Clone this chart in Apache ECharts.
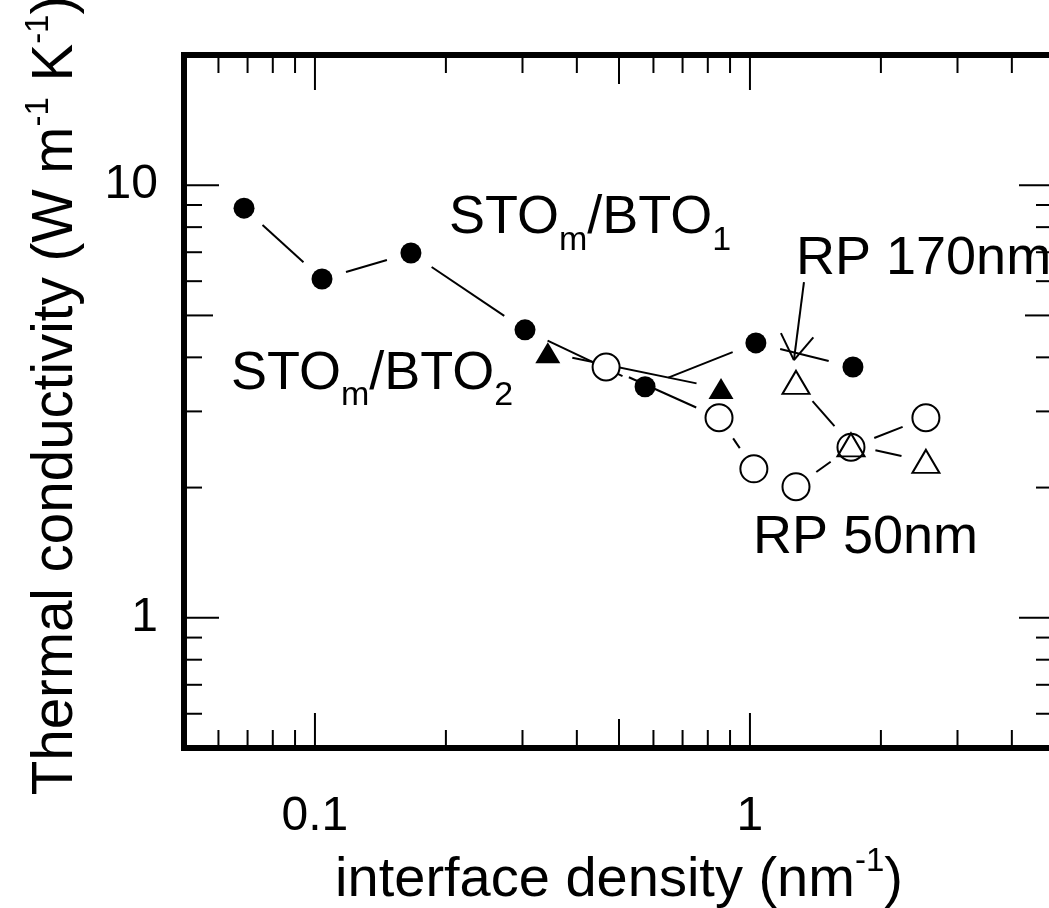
<!DOCTYPE html>
<html>
<head>
<meta charset="utf-8">
<script src="https://cdn.jsdelivr.net/npm/echarts@6/dist/echarts.min.js"></script>
<style>
html,body{margin:0;padding:0;background:#fff;}
#chart{width:1049px;height:908px;}
</style>
</head>
<body>
<div id="chart"></div>
<script>
// ---- data ----
const bto1X = [0.0687, 0.1038, 0.1662, 0.304, 0.574, 1.032, 1.725];
const bto1Y = [8.85, 6.07, 6.97, 4.63, 3.42, 4.32, 3.80];
const bto2X = [0.343, 0.858];
const bto2Y = [4.10, 3.39];
const rp50X = [0.467, 0.849, 1.021, 1.276, 1.707, 2.538];
const rp50Y = [3.80, 2.90, 2.21, 2.01, 2.48, 2.90];
const rp170X = [1.276, 1.707, 2.538];
const rp170Y = [3.50, 2.51, 2.30];

// axis ranges and ticks
const xRange = [0.05, 5];
const yRange = [0.5, 20];
const xTickLabels = ['0.1', '1'];
const yTickLabels = ['1', '10'];
const xMajorTicks = [0.1, 1];
const xMidTicks = [0.5];
const xMinorTicks = [0.06, 0.07, 0.08, 0.09, 0.2, 0.3, 0.4, 0.6, 0.7, 0.8, 0.9, 2, 3, 4];
const yMajorTicks = [1, 10];
const yMidTicks = [5];
const yMinorTicks = [0.6, 0.7, 0.8, 0.9, 2, 3, 4, 6, 7, 8, 9];

// annotations
const annoText = ['STO{s|m}/BTO{s|1}', 'STO{s|m}/BTO{s|2}', 'RP 170nm', 'RP 50nm'];
const annoX = [0.2032, 0.0641, 1.276, 1.016];
const annoY = [8.39, 3.66, 6.75, 1.53];
const arrowFrom = [1.331, 5.97];
const arrowTo = [1.262, 3.94];

// ---- styles ----
const FONT = '"Liberation Sans", Arial, sans-serif';
const TICK_MAJOR = 35, TICK_MID = 29, TICK_MINOR = 18;
const GAP = 25;

function pairs(xs, ys) { return xs.map((x, i) => [x, ys[i]]); }
function segs(xs, ys) {
  const out = [];
  for (let i = 0; i < xs.length - 1; i++) out.push([xs[i], ys[i], xs[i + 1], ys[i + 1]]);
  return out;
}

const allSegs = [].concat(segs(bto1X, bto1Y), segs(bto2X, bto2Y), segs(rp50X, rp50Y), segs(rp170X, rp170Y));

function segRender(params, api) {
  const p1 = api.coord([api.value(0), api.value(1)]);
  const p2 = api.coord([api.value(2), api.value(3)]);
  const dx = p2[0] - p1[0], dy = p2[1] - p1[1];
  const L = Math.hypot(dx, dy);
  if (L <= 2 * GAP) return null;
  const ux = dx / L, uy = dy / L;
  return {
    type: 'line',
    shape: { x1: p1[0] + ux * GAP, y1: p1[1] + uy * GAP, x2: p2[0] - ux * GAP, y2: p2[1] - uy * GAP },
    style: { stroke: '#000', lineWidth: 2 }
  };
}

const xTickData = [].concat(
  xMajorTicks.map(v => [v, yRange[0], TICK_MAJOR]),
  xMidTicks.map(v => [v, yRange[0], TICK_MID]),
  xMinorTicks.map(v => [v, yRange[0], TICK_MINOR]));
const yTickData = [].concat(
  yMajorTicks.map(v => [xRange[0], v, TICK_MAJOR]),
  yMidTicks.map(v => [xRange[0], v, TICK_MID]),
  yMinorTicks.map(v => [xRange[0], v, TICK_MINOR]));

function xTickRender(params, api) {
  const v = api.value(0), len = api.value(2);
  const b = api.coord([v, yRange[0]]), t = api.coord([v, yRange[1]]);
  const st = { stroke: '#000', lineWidth: 2 };
  return { type: 'group', children: [
    { type: 'line', shape: { x1: b[0], y1: b[1], x2: b[0], y2: b[1] - len }, style: st },
    { type: 'line', shape: { x1: t[0], y1: t[1], x2: t[0], y2: t[1] + len }, style: st }
  ] };
}
function yTickRender(params, api) {
  const v = api.value(1), len = api.value(2);
  const l = api.coord([xRange[0], v]), r = api.coord([xRange[1], v]);
  const st = { stroke: '#000', lineWidth: 2 };
  return { type: 'group', children: [
    { type: 'line', shape: { x1: l[0], y1: l[1], x2: l[0] + len, y2: l[1] }, style: st },
    { type: 'line', shape: { x1: r[0], y1: r[1], x2: r[0] - len, y2: r[1] }, style: st }
  ] };
}
function arrowRender(params, api) {
  const a = api.coord([api.value(0), api.value(1)]);
  const b = api.coord([api.value(2), api.value(3)]);
  const ang = Math.atan2(a[1] - b[1], a[0] - b[0]);
  const hl = 30, ha = 33 * Math.PI / 180;
  const st = { stroke: '#000', lineWidth: 2 };
  return { type: 'group', children: [
    { type: 'line', shape: { x1: a[0], y1: a[1], x2: b[0], y2: b[1] }, style: st },
    { type: 'line', shape: { x1: b[0], y1: b[1], x2: b[0] + hl * Math.cos(ang + ha), y2: b[1] + hl * Math.sin(ang + ha) }, style: st },
    { type: 'line', shape: { x1: b[0], y1: b[1], x2: b[0] + hl * Math.cos(ang - ha), y2: b[1] + hl * Math.sin(ang - ha) }, style: st }
  ] };
}

function fmt(list) {
  return function (v) {
    const s = String(+(+v).toPrecision(6));
    return list.indexOf(s) >= 0 ? s : '';
  };
}

const chart = echarts.init(document.getElementById('chart'), null, { renderer: 'canvas' });
chart.setOption({
  animation: false,
  backgroundColor: '#fff',
  grid: { left: 184, right: -5, top: 55, bottom: 160, show: true, borderWidth: 6, borderColor: '#000',
    backgroundColor: 'transparent', containLabel: false, outerBoundsMode: 'none' },
  xAxis: {
    type: 'log', logBase: 10, min: xRange[0], max: xRange[1],
    axisLine: { show: false }, axisTick: { show: false }, splitLine: { show: false },
    axisLabel: { formatter: fmt(xTickLabels), fontSize: 48, fontFamily: FONT, color: '#000', margin: 45 },
    name: 'interface density (nm{sup|-1})',
    nameLocation: 'middle', nameGap: 91,
    nameTextStyle: { fontSize: 56, fontFamily: FONT, color: '#000', lineHeight: 56,
      rich: { sup: { fontSize: 33, lineHeight: 33, fontFamily: FONT, color: '#000', padding: [0, 0, 36, 0] } } }
  },
  yAxis: {
    type: 'log', logBase: 10, min: yRange[0], max: yRange[1],
    axisLine: { show: false }, axisTick: { show: false }, splitLine: { show: false },
    axisLabel: { formatter: fmt(yTickLabels), fontSize: 48, fontFamily: FONT, color: '#000', margin: 26 },
    name: 'Thermal conductivity (W m{sup|-1} K{sup|-1})',
    nameLocation: 'middle', nameGap: 99,
    nameTextStyle: { fontSize: 56.5, fontFamily: FONT, color: '#000', lineHeight: 57, padding: [0, 0, 0, 12],
      rich: { sup: { fontSize: 33, lineHeight: 33, fontFamily: FONT, color: '#000', padding: [0, 0, 36, 0] } } }
  },
  series: [
    { type: 'custom', name: 'xticks', renderItem: xTickRender, data: xTickData, encode: { x: 0, y: 1 }, z: 5, silent: true },
    { type: 'custom', name: 'yticks', renderItem: yTickRender, data: yTickData, encode: { x: 0, y: 1 }, z: 5, silent: true },
    { type: 'custom', name: 'lines', renderItem: segRender, data: allSegs, encode: { x: [0, 2], y: [1, 3] }, z: 2, silent: true },
    { type: 'custom', name: 'arrow', renderItem: arrowRender, data: [[arrowFrom[0], arrowFrom[1], arrowTo[0], arrowTo[1]]], encode: { x: [0, 2], y: [1, 3] }, z: 2, silent: true },
    { type: 'scatter', name: 'STOm/BTO1', data: pairs(bto1X, bto1Y), symbol: 'circle', symbolSize: 21,
      itemStyle: { color: '#000', opacity: 1 }, z: 4 },
    { type: 'scatter', name: 'STOm/BTO2', data: pairs(bto2X, bto2Y), symbol: 'triangle', symbolSize: [25, 21],
      itemStyle: { color: '#000', opacity: 1 }, z: 4 },
    { type: 'scatter', name: 'RP 50nm', data: pairs(rp50X, rp50Y), symbol: 'circle', symbolSize: 27,
      itemStyle: { color: '#fff', borderColor: '#000', borderWidth: 2, opacity: 1 }, z: 3 },
    { type: 'scatter', name: 'RP 170nm', data: pairs(rp170X, rp170Y), symbol: 'triangle', symbolSize: [27, 23],
      itemStyle: { color: 'rgba(255,255,255,0)', borderColor: '#000', borderWidth: 2, opacity: 1 }, z: 4 },
    { type: 'scatter', name: 'annotations', symbolSize: 0, silent: true, z: 6,
      itemStyle: { opacity: 1 },
      data: annoText.map((t, i) => ({ value: [annoX[i], annoY[i]], label: { formatter: t } })),
      label: { show: true, position: 'right', distance: 0, fontSize: 54, lineHeight: 54, fontFamily: FONT, color: '#000', opacity: 1,
        rich: { s: { fontSize: 34, lineHeight: 34, fontFamily: FONT, color: '#000', padding: [44, 0, 0, 0] } } } }
  ]
});
</script>
</body>
</html>
